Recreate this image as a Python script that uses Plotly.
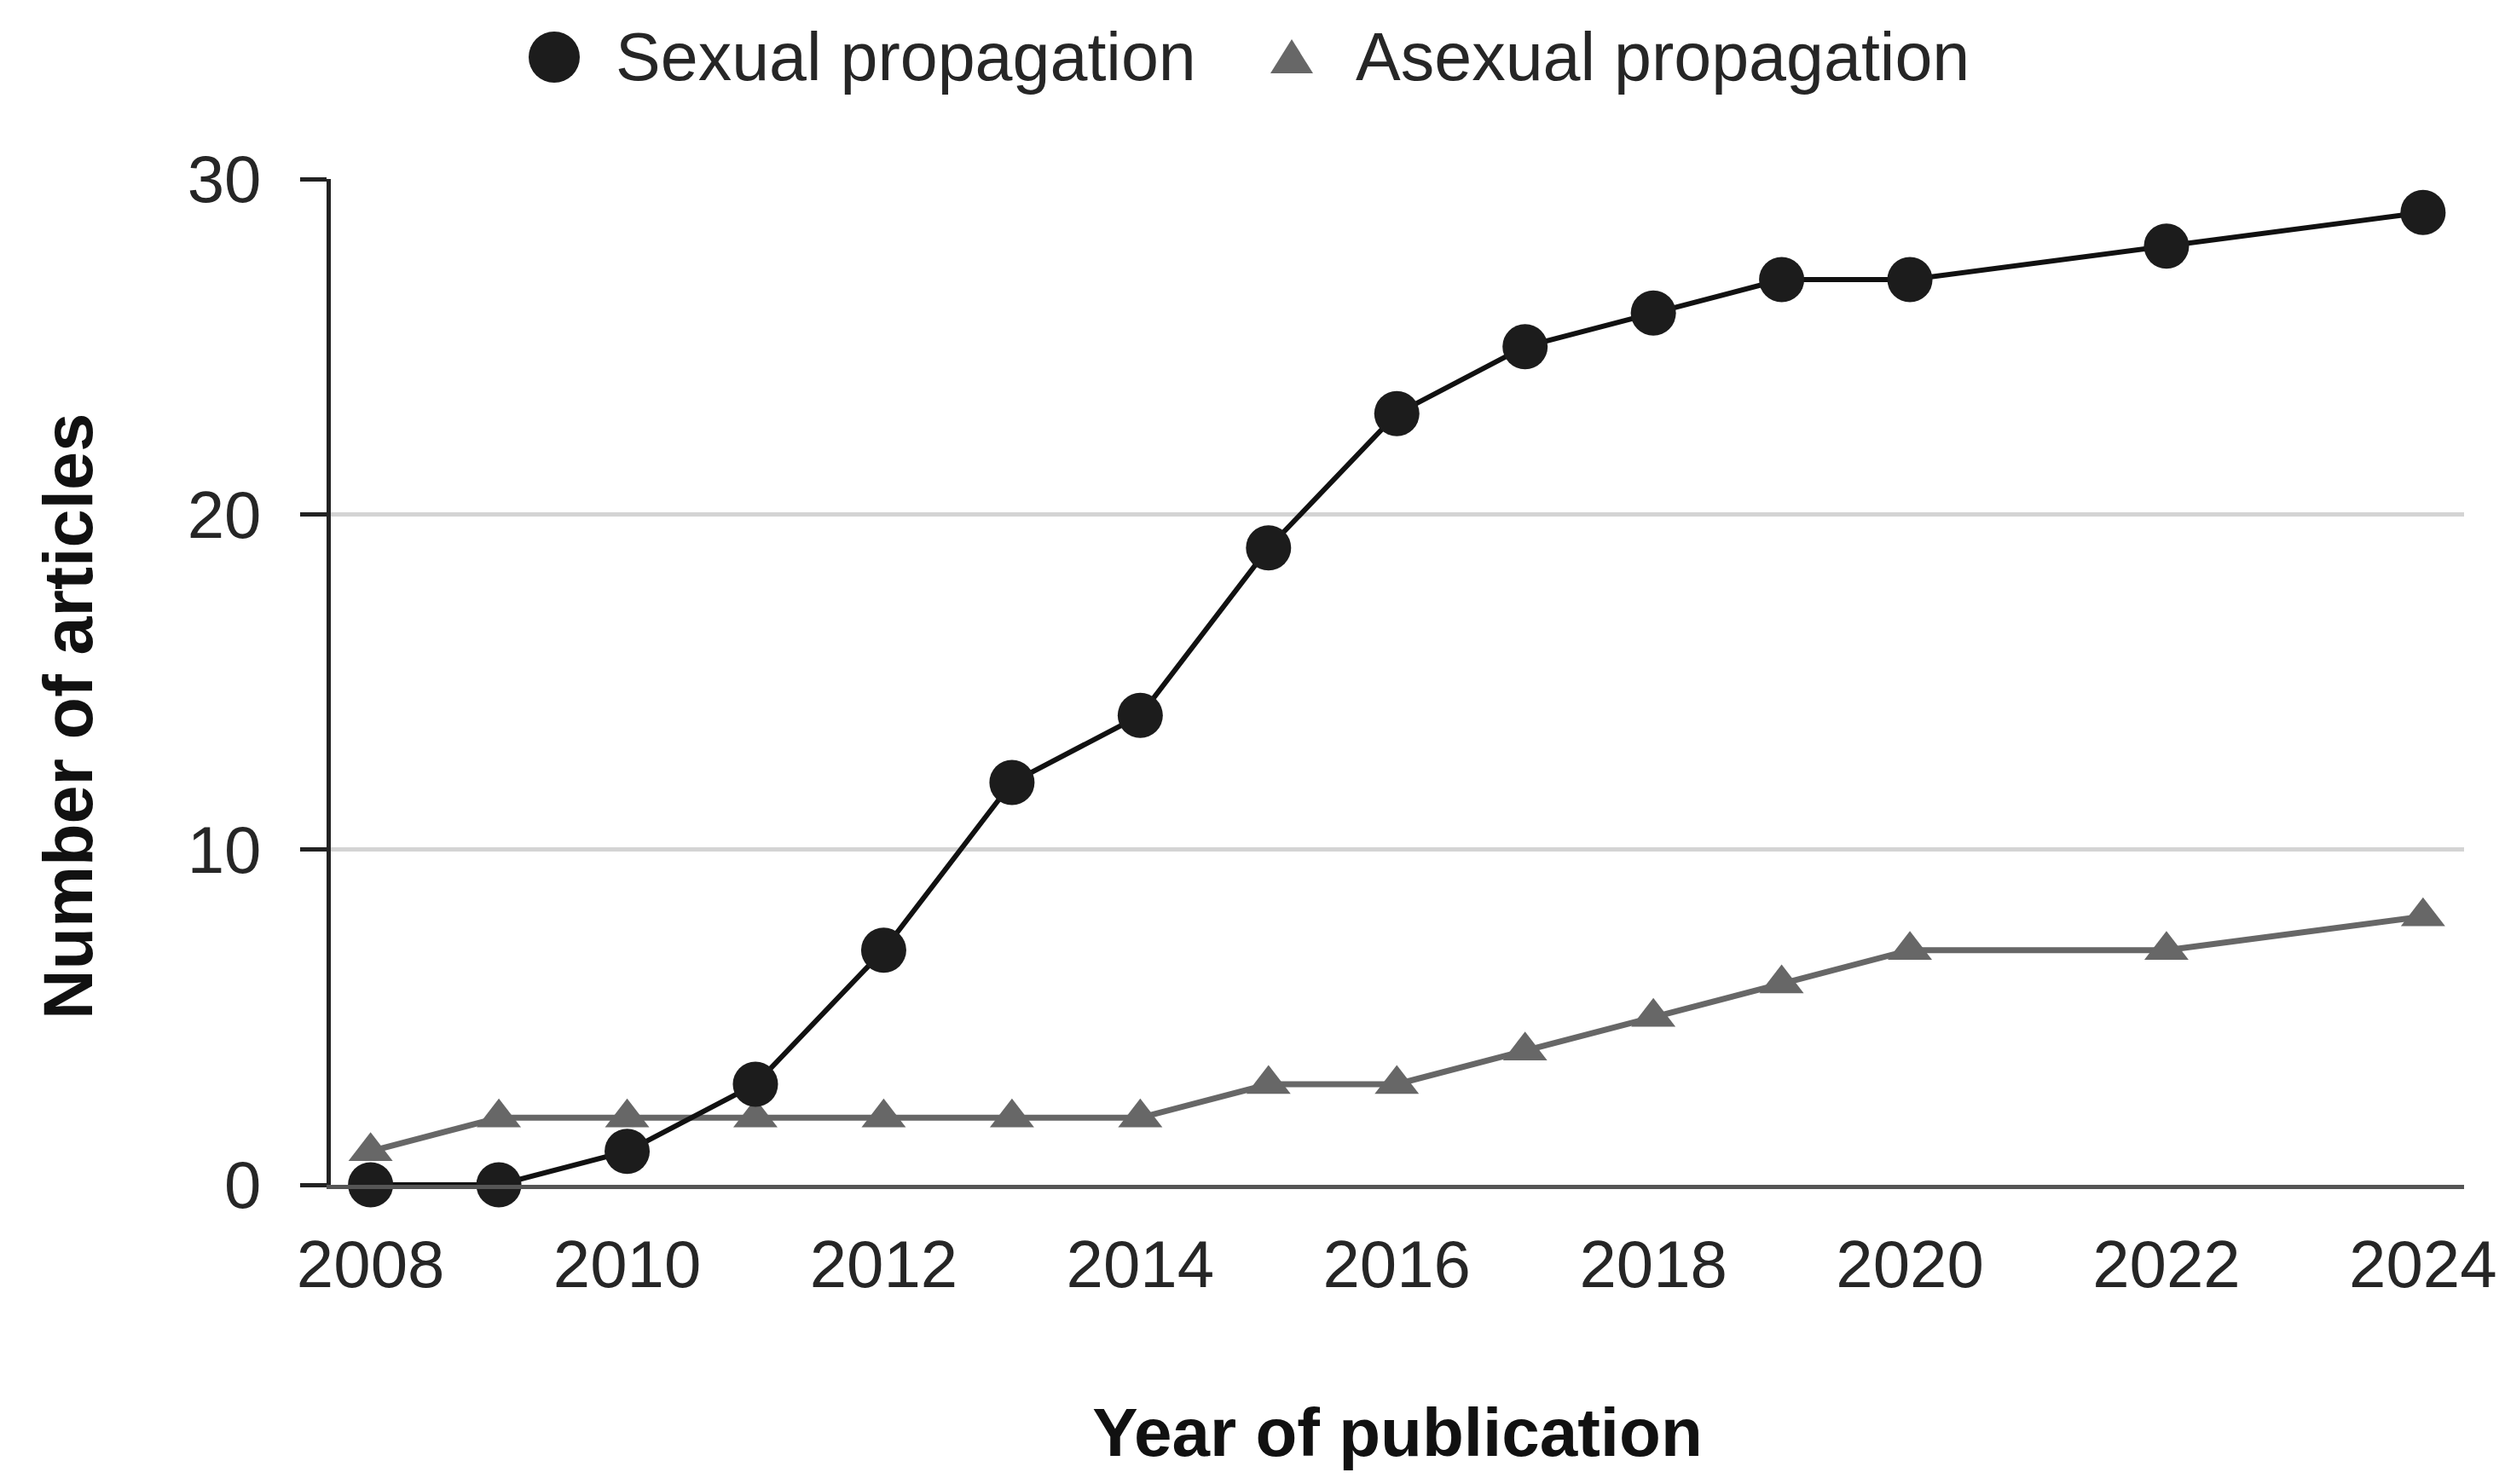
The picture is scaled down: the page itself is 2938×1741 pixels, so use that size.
import plotly.graph_objects as go

years = [2008, 2009, 2010, 2011, 2012, 2013, 2014, 2015, 2016, 2017, 2018, 2019, 2020, 2022, 2024]
sexual = [0, 0, 1, 3, 7, 12, 14, 19, 23, 25, 26, 27, 27, 28, 29]
asexual = [1, 2, 2, 2, 2, 2, 2, 3, 3, 4, 5, 6, 7, 7, 8]
x_ticks = [2008, 2010, 2012, 2014, 2016, 2018, 2020, 2022, 2024]
y_ticks = [0, 10, 20, 30]
series_names = ["Sexual propagation", "Asexual propagation"]
x_title = "Year of publication"
y_title = "Number of articles"

FONT = "Liberation Sans, Arial, sans-serif"
BLACK = "#1c1c1c"
GRAY = "#676767"
TXT = "#262626"

W, H = 2938, 1741
L, R, T, B = 380, 56, 202, 359

fig = go.Figure()
fig.add_trace(go.Scatter(
    x=years, y=asexual, mode="lines+markers", name=series_names[1],
    line=dict(color=GRAY, width=7),
    marker=dict(symbol="triangle-up", size=45, color=GRAY),
    cliponaxis=False, showlegend=False))
fig.add_trace(go.Scatter(
    x=years, y=sexual, mode="lines+markers", name=series_names[0],
    line=dict(color="#111111", width=6),
    marker=dict(symbol="circle", size=53, color=BLACK),
    cliponaxis=False, showlegend=False))

fig.update_layout(
    width=W, height=H,
    margin=dict(l=L, r=R, t=T, b=B, pad=0),
    paper_bgcolor="white", plot_bgcolor="white",
    font=dict(family=FONT, size=78, color=TXT),
    showlegend=False,
)
fig.update_xaxes(
    range=[2007.69, 2024.32], tickmode="array", tickvals=x_ticks,
    ticktext=[str(v) for v in x_ticks],
    showgrid=False, zeroline=False,
    showline=True, linecolor="#555555", linewidth=5,
    ticks="", ticklabelstandoff=21,
    tickfont=dict(family=FONT, size=78, color=TXT),
    title=dict(text="<b>" + x_title + "</b>", standoff=128,
               font=dict(family=FONT, size=80, color="#111111")),
)
fig.update_yaxes(
    range=[0, 30], tickmode="array", tickvals=y_ticks,
    showgrid=True, gridcolor="#d4d4d4", gridwidth=5,
    zeroline=False,
    showline=True, linecolor="#222222", linewidth=5,
    ticks="outside", ticklen=31, tickwidth=5, tickcolor="#222222",
    ticklabelstandoff=30,
    tickfont=dict(family=FONT, size=78, color=TXT),
)

def px_x(p):
    return (p - L) / (W - L - R)

def px_y(p):
    return (H - B - p) / (H - B - T)

# y-axis title (placed slightly below the axis centre, as in the reference)
fig.add_annotation(text="<b>" + y_title + "</b>", xref="paper", yref="paper",
                   x=px_x(72), y=px_y(833), xanchor="center", yanchor="middle",
                   textangle=-90, showarrow=False,
                   font=dict(family=FONT, size=81, color="#111111"))

# Legend (drawn at top, symbols larger than Plotly's legend allows)
leg_y = px_y(59)
fig.add_shape(type="circle", xref="paper", yref="paper",
              xsizemode="pixel", ysizemode="pixel",
              xanchor=px_x(642), yanchor=leg_y,
              x0=-30, x1=30, y0=-30, y1=30,
              fillcolor=BLACK, line=dict(width=0))
fig.add_shape(type="path", xref="paper", yref="paper",
              xsizemode="pixel", ysizemode="pixel",
              xanchor=px_x(1507), yanchor=leg_y,
              path="M-25,-19 L25,-19 L0,21 Z",
              fillcolor=GRAY, line=dict(width=0))
fig.add_annotation(text=series_names[0], xref="paper", yref="paper",
                   x=px_x(712), y=leg_y, xanchor="left", yanchor="middle",
                   showarrow=False, font=dict(family=FONT, size=79, color=TXT))
fig.add_annotation(text=series_names[1], xref="paper", yref="paper",
                   x=px_x(1580), y=leg_y, xanchor="left", yanchor="middle",
                   showarrow=False, font=dict(family=FONT, size=79, color=TXT))

fig.write_html("out.html")
